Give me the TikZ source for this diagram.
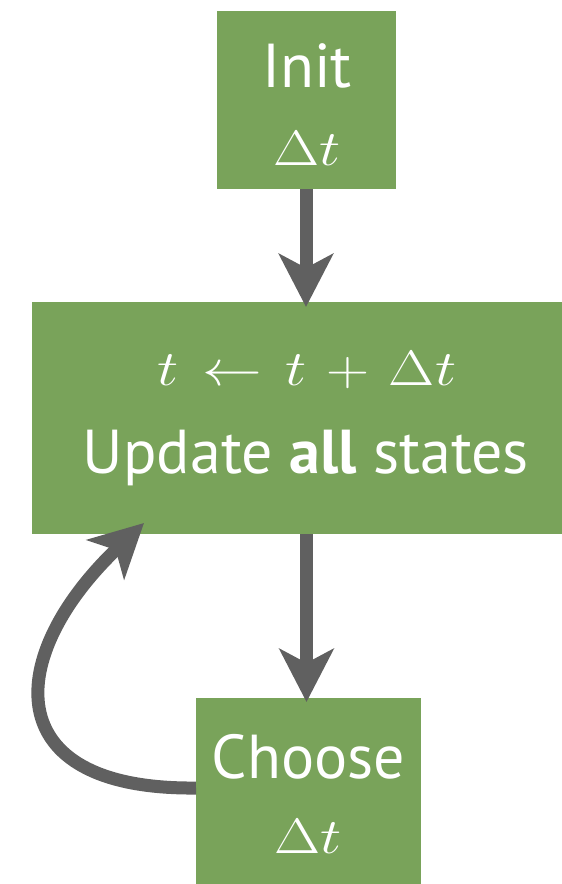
\documentclass[tikz,border=0pt]{standalone}
\usepackage{fontspec}
\setmainfont{PT Sans}
\usepackage{graphicx}
\usetikzlibrary{arrows.meta}
\definecolor{boxgreen}{RGB}{121,163,90}
\definecolor{arrgray}{RGB}{96,96,96}
\begin{document}
\begin{tikzpicture}[x=0.5pt,y=-0.5pt,
  box/.style={fill=boxgreen,draw=none,inner sep=0pt,outer sep=0pt,anchor=center},
  txt/.style={text=white,anchor=base,inner sep=0pt,font=\fontsize{31}{37}\selectfont},
  mtxt/.style={text=white,anchor=base,inner sep=0pt,font=\fontsize{23}{28}\selectfont},
  arr/.style={draw=arrgray,line width=6.5pt,-{Stealth[length=26.5pt,width=27pt,inset=7pt]}}]
\useasboundingbox (0,0) rectangle (562,884);
% boxes
\node[box,minimum width=89.5pt,minimum height=89pt] (init) at (306.5,100) {};
\node[box,minimum width=265pt,minimum height=116pt] (update) at (297,418) {};
\node[box,minimum width=112.5pt,minimum height=93pt] (choose) at (308.5,791) {};
% texts
\node[txt] (initlbl) at (307,87) {Init};
\node[mtxt] (initdt) at (307,165) {\scalebox{1.2}[1]{$\Delta t$}};
\node[mtxt] (updmath) at (307,385) {\scalebox{1.2}[1]{$t \mkern2mu\leftarrow\mkern2mu t \mkern2mu+\mkern2mu \Delta t$}};
\node[txt] (updlbl) at (306,473) {Update \textbf{all} states};
\node[txt] (chlbl) at (308.5,778) {Choose};
\node[mtxt] (chdt) at (308,853) {\scalebox{1.2}[1]{$\Delta t$}};
% connectors
\coordinate (loopend) at (144,523);
\draw[arr,shorten >=-2.5pt] (306,189) -- (306,302);
\draw[arr,shorten >=-2pt] (306.5,534) -- (306.5,698);
\draw[arr] ([yshift=1.5pt]choose.west) .. controls (-5,790) and (5,655) .. (loopend);
\end{tikzpicture}
\end{document}
